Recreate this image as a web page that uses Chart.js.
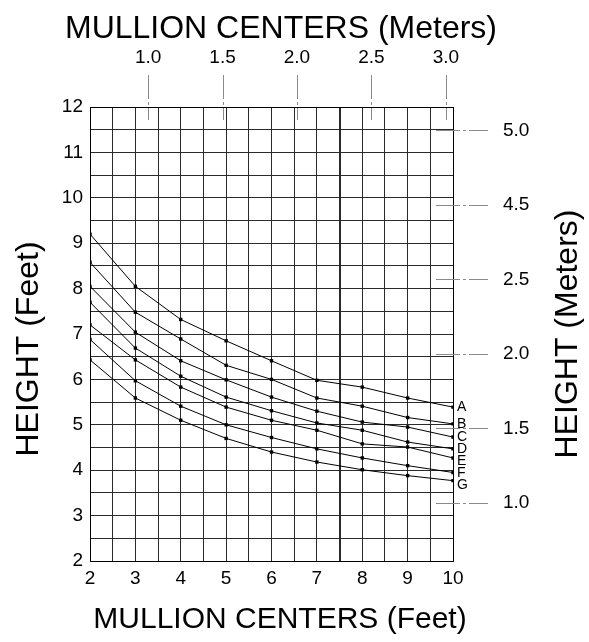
<!DOCTYPE html>
<html>
<head>
<meta charset="utf-8">
<script src="https://cdn.jsdelivr.net/npm/chart.js@4/dist/chart.umd.min.js"></script>
<style>
html,body{margin:0;padding:0;background:#fff;}
#wrap{width:589px;height:642px;}
</style>
</head>
<body>
<div id="wrap"><canvas id="c" width="589" height="642"></canvas></div>
<script>
// ---- data ----
const mullionFeet = [2, 3, 4, 5, 6, 7, 8, 9, 10];
const seriesA = [9.20, 8.05, 7.32, 6.85, 6.41, 5.98, 5.83, 5.59, 5.39];
const seriesB = [8.58, 7.48, 6.89, 6.31, 6.00, 5.59, 5.41, 5.16, 5.02];
const seriesC = [8.05, 7.04, 6.41, 5.99, 5.61, 5.30, 5.06, 4.95, 4.73];
const seriesD = [7.70, 6.69, 6.07, 5.61, 5.31, 5.04, 4.88, 4.62, 4.47];
const seriesE = [7.20, 6.43, 5.83, 5.39, 5.10, 4.88, 4.58, 4.51, 4.27];
const seriesF = [6.88, 5.97, 5.41, 5.00, 4.72, 4.47, 4.27, 4.10, 3.95];
const seriesG = [6.43, 5.59, 5.10, 4.70, 4.40, 4.18, 4.01, 3.88, 3.77];
const seriesNames = ['A', 'B', 'C', 'D', 'E', 'F', 'G'];
const topTickMeters = [1.0, 1.5, 2.0, 2.5, 3.0];
const rightTickMeters = [1.0, 1.5, 2.0, 2.5, 3.0, 3.5];
const rightTickLabels = ['1.0', '1.5', '2.0', '2.5', '4.5', '5.0'];
const titleTop = 'MULLION CENTERS (Meters)';
const titleBottom = 'MULLION CENTERS (Feet)';
const titleLeft = 'HEIGHT (Feet)';
const titleRight = 'HEIGHT (Meters)';
const FT_PER_M = 3.2808;

const FONT = "'Liberation Sans', Arial, sans-serif";
const allSeries = [seriesA, seriesB, seriesC, seriesD, seriesE, seriesF, seriesG];

const datasets = allSeries.map((s, i) => ({
  label: seriesNames[i],
  data: mullionFeet.map((x, j) => ({x: x, y: s[j]})),
  borderColor: '#000',
  borderWidth: 1,
  backgroundColor: '#000',
  pointStyle: 'rect',
  pointRadius: 2.4,
  pointBorderWidth: 0,
  pointBackgroundColor: '#000',
  tension: 0,
  xAxisID: 'x',
  yAxisID: 'y'
}));

const extrasPlugin = {
  id: 'extras',
  afterDraw(chart) {
    const ctx = chart.ctx;
    const ca = chart.chartArea;
    const x2 = chart.scales.x2, y2 = chart.scales.y2;
    ctx.save();
    ctx.strokeStyle = '#8a8a8a';
    ctx.lineWidth = 1;
    ctx.setLineDash([24, 3, 3, 3]);
    x2.ticks.forEach(t => {
      const px = Math.round(x2.getPixelForValue(t.value)) + 0.5;
      ctx.beginPath();
      ctx.moveTo(px, ca.top - 32);
      ctx.lineTo(px, ca.top + 13);
      ctx.stroke();
    });
    y2.ticks.forEach(t => {
      const py = Math.round(y2.getPixelForValue(t.value)) + 0.5;
      ctx.beginPath();
      ctx.moveTo(ca.right - 17, py);
      ctx.lineTo(ca.right + 35, py);
      ctx.stroke();
    });
    ctx.setLineDash([]);
    // series end labels
    ctx.fillStyle = '#000';
    ctx.font = '14px ' + FONT;
    ctx.textAlign = 'left';
    ctx.textBaseline = 'middle';
    let lastY = -1e9;
    chart.data.datasets.forEach((ds, i) => {
      const meta = chart.getDatasetMeta(i);
      const pt = meta.data[meta.data.length - 1];
      let y = Math.max(pt.y, lastY + 12);
      lastY = y;
      ctx.fillText(ds.label, pt.x + 4, y);
    });
    // axis titles
    ctx.textAlign = 'center';
    ctx.textBaseline = 'middle';
    ctx.font = '32px ' + FONT;
    ctx.fillText(titleTop, 281, 29);
    ctx.font = '30px ' + FONT;
    ctx.fillText(titleBottom, 280, 620);
    ctx.font = '32px ' + FONT;
    ctx.save();
    ctx.translate(29, 349);
    ctx.rotate(-Math.PI / 2);
    ctx.fillText(titleLeft, 0, 0);
    ctx.restore();
    ctx.save();
    ctx.translate(568, 334);
    ctx.rotate(-Math.PI / 2);
    ctx.fillText(titleRight, 0, 0);
    ctx.restore();
    ctx.restore();
  }
};

const tickFont = {family: FONT, size: 19};

new Chart(document.getElementById('c'), {
  type: 'line',
  data: {datasets},
  plugins: [extrasPlugin],
  options: {
    responsive: false,
    animation: false,
    devicePixelRatio: 1,
    layout: {padding: 0},
    plugins: {legend: {display: false}, tooltip: {enabled: false}},
    scales: {
      x: {
        type: 'linear', position: 'bottom', min: 2, max: 10,
        afterFit: s => { s.height = 81; },
        ticks: {
          stepSize: 0.5, autoSkip: false, maxRotation: 0, color: '#000', font: tickFont, padding: 6,
          callback: v => Number.isInteger(v) ? String(v) : ''
        },
        grid: {
          color: '#2a2a2a',
          lineWidth: c => (c.tick && c.tick.value === 7.5) ? 2 : 1,
          drawTicks: false
        },
        border: {color: '#000', width: 1},
        title: {display: false, text: titleBottom}
      },
      x2: {
        type: 'linear', position: 'top',
        min: 2 / FT_PER_M, max: 10 / FT_PER_M,
        afterFit: s => { s.height = 107; },
        afterBuildTicks: s => { s.ticks = topTickMeters.map(v => ({value: v})); },
        ticks: {color: '#000', font: tickFont, padding: 38, autoSkip: false, maxRotation: 0,
          callback: v => Number(v).toFixed(1)},
        grid: {drawOnChartArea: false, drawTicks: false},
        border: {color: '#000', width: 1},
        title: {display: false, text: titleTop}
      },
      y: {
        type: 'linear', position: 'left', min: 2, max: 12,
        afterFit: s => { s.width = 90; },
        ticks: {
          stepSize: 0.5, autoSkip: false, color: '#000', font: tickFont, padding: 7,
          callback: v => Number.isInteger(v) ? String(v) : ''
        },
        grid: {color: '#2a2a2a', lineWidth: 1, drawTicks: false},
        border: {color: '#000', width: 1},
        title: {display: false, text: titleLeft}
      },
      y2: {
        type: 'linear', position: 'right',
        min: 2 / FT_PER_M, max: 12 / FT_PER_M,
        afterFit: s => { s.width = 136; },
        afterBuildTicks: s => { s.ticks = rightTickMeters.map(v => ({value: v})); },
        ticks: {color: '#000', font: tickFont, padding: 50, autoSkip: false,
          callback: (v, i) => rightTickLabels[i]},
        grid: {drawOnChartArea: false, drawTicks: false},
        border: {color: '#000', width: 1},
        title: {display: false, text: titleRight}
      }
    }
  }
});
</script>
</body>
</html>
